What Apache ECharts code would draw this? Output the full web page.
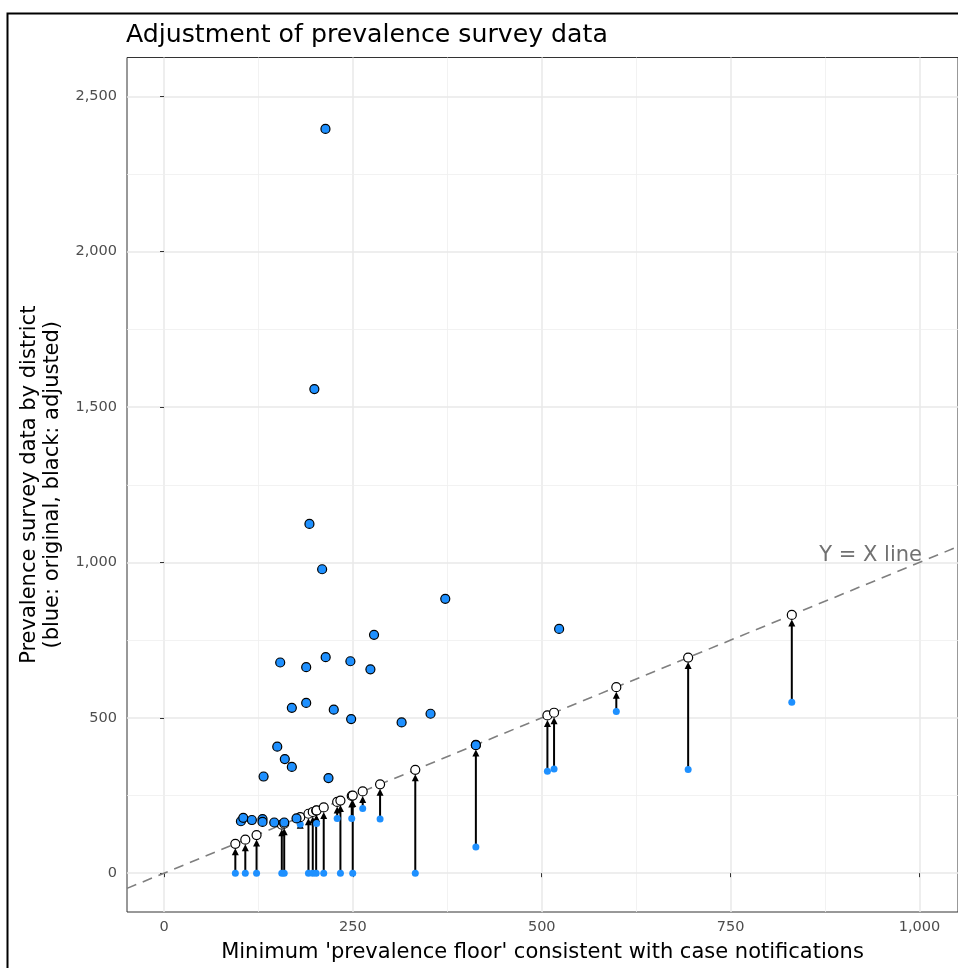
<!DOCTYPE html>
<html>
<head>
<meta charset="utf-8">
<script src="https://cdn.jsdelivr.net/npm/echarts@6/dist/echarts.min.js"></script>
<style>
html,body{margin:0;padding:0;background:#fff;}
#chart{width:958px;height:968px;}
</style>
</head>
<body>
<div id="chart"></div>
<script>
// ---- data ----
// districts whose survey value was below the floor (adjusted up to the floor)
const adjFloor = [94.4,107.6,122.5,155.9,159.1,180.3,191.2,196.9,201.4,202.0,211.4,229.2,233.5,248.5,249.8,263.0,286.0,332.6,412.8,507.5,516.3,598.7,693.8,831.0];
const adjOrig  = [0,0,0,0,0,157,0,0,0,160,0,176,0,176,0,208,174,0,84,328,335,520,334,550];
// districts whose survey value was already above the floor (unchanged)
const keptFloor = [213.7,199.0,192.5,209.3,372.3,523.0,278.0,153.8,246.7,214.0,188.2,273.2,188.2,224.7,169.2,247.7,352.8,314.5,149.9,159.9,169.2,131.8,217.7,412.8,101.8,104.9,116.3,130.4,130.4,145.9,159.1,175.4];
const keptValue = [2395,1558,1124,978,883,786,767,678,682,695,663,656,548,526,532,496,513,485,407,367,342,311,306,412,167,178,171,174,165,163,163,176];
// axes
const xTicks = [0,250,500,750,1000];
const xMinor = [125,375,625,875];
const yTicks = [0,500,1000,1500,2000,2500];
const yMinor = [250,750,1250,1750,2250];
const xLim = [-49,1051];
const yLim = [-125,2625];
const refLabel = {x:1000, y:1000, text:'Y = X line'};

const FONT = 'DejaVu Sans';
const fmt = v => Number(v).toLocaleString('en-US');

const origPts = adjFloor.map((f,i)=>[f, adjOrig[i]]);
const adjPts = adjFloor.map(f=>[f, f]);
const arrows = adjFloor.map((f,i)=>[f, adjOrig[i], f]);
const keptPts = keptFloor.map((f,i)=>[f, keptValue[i]]);

const gridLines = [];
xTicks.forEach(v=>gridLines.push({xAxis:v, lineStyle:{color:'#e8e8e8', width:1.5, type:'solid'}}));
xMinor.forEach(v=>gridLines.push({xAxis:v, lineStyle:{color:'#efefef', width:0.8, type:'solid'}}));
yTicks.forEach(v=>gridLines.push({yAxis:v, lineStyle:{color:'#e8e8e8', width:1.5, type:'solid'}}));
yMinor.forEach(v=>gridLines.push({yAxis:v, lineStyle:{color:'#efefef', width:0.8, type:'solid'}}));

const chart = echarts.init(document.getElementById('chart'), null, {renderer:'canvas'});
chart.setOption({
  animation:false,
  backgroundColor:'#ffffff',
  title:{
    text:'Adjustment of prevalence survey data',
    left:126, top:23, padding:0,
    textStyle:{fontFamily:FONT, fontSize:25.2, fontWeight:'normal', color:'#000'}
  },
  graphic:[{
    type:'rect', left:5, top:11, z:100, silent:true,
    shape:{x:0,y:0,width:1000,height:1000},
    style:{fill:'none', stroke:'#000', lineWidth:2}
  }],
  grid:{
    left:127, top:57.5, width:832.5, height:854.5,
    show:true, borderColor:'#333333', borderWidth:1, backgroundColor:'transparent'
  },
  xAxis:{
    type:'value', min:xLim[0], max:xLim[1],
    name:"Minimum 'prevalence floor' consistent with case notifications",
    nameLocation:'middle', nameGap:30,
    nameTextStyle:{fontFamily:FONT, fontSize:21, color:'#000'},
    axisLine:{show:false},
    axisTick:{show:true, length:4, customValues:xTicks, lineStyle:{color:'#333333', width:1}},
    axisLabel:{customValues:xTicks, formatter:fmt, fontFamily:FONT, fontSize:14.5, color:'#4d4d4d', margin:8},
    splitLine:{show:false}
  },
  yAxis:{
    type:'value', min:yLim[0], max:yLim[1],
    name:'Prevalence survey data by district\n(blue: original, black: adjusted)',
    nameLocation:'middle', nameGap:63, nameRotate:90,
    nameTextStyle:{fontFamily:FONT, fontSize:21, color:'#000', lineHeight:23, align:'center'},
    axisLine:{show:false},
    axisTick:{show:true, length:4, customValues:yTicks, lineStyle:{color:'#333333', width:1}},
    axisLabel:{customValues:yTicks, formatter:fmt, fontFamily:FONT, fontSize:14.5, color:'#4d4d4d', margin:10},
    splitLine:{show:false}
  },
  series:[
    {
      type:'line', data:[], z:0, silent:true,
      markLine:{z:0, silent:true, symbol:'none', label:{show:false}, animation:false, data:gridLines}
    },
    {
      type:'line', z:1, silent:true, symbol:'none',
      data:[[xLim[0],xLim[0]],[xLim[1],xLim[1]]],
      lineStyle:{color:'#7f7f7f', width:1.6, type:[10,7]}
    },
    {
      type:'custom', z:2, data:arrows,
      renderItem:function(params, api){
        const x = api.value(0), y0 = api.value(1), y1 = api.value(2);
        const p0 = api.coord([x,y0]), p1 = api.coord([x,y1]);
        const tipY = p1[1] + 4.5, headLen = 7, headW = 3.5;
        return {type:'group', children:[
          {type:'line', shape:{x1:p0[0], y1:p0[1], x2:p1[0], y2:tipY+headLen-1}, style:{stroke:'#000', lineWidth:2}},
          {type:'polygon', shape:{points:[[p1[0],tipY],[p1[0]-headW,tipY+headLen],[p1[0]+headW,tipY+headLen]]}, style:{fill:'#000'}}
        ]};
      }
    },
    {
      type:'scatter', z:3, data:origPts, symbol:'circle', symbolSize:7,
      itemStyle:{color:'#1E90FF', opacity:1}
    },
    {
      type:'scatter', z:4, data:adjPts, symbol:'circle', symbolSize:9,
      itemStyle:{color:'#ffffff', borderColor:'#000', borderWidth:1.2, opacity:1}
    },
    {
      type:'scatter', z:5, data:keptPts, symbol:'circle', symbolSize:9,
      itemStyle:{color:'#1E90FF', borderColor:'#000', borderWidth:1.2, opacity:1}
    },
    {
      type:'scatter', z:6, silent:true, symbolSize:1, itemStyle:{color:'transparent'},
      data:[[refLabel.x, refLabel.y]],
      label:{show:true, formatter:refLabel.text, position:[3,4], align:'right', verticalAlign:'bottom',
             fontFamily:FONT, fontSize:21, color:'#4d4d4d'}
    }
  ]
});
</script>
</body>
</html>
